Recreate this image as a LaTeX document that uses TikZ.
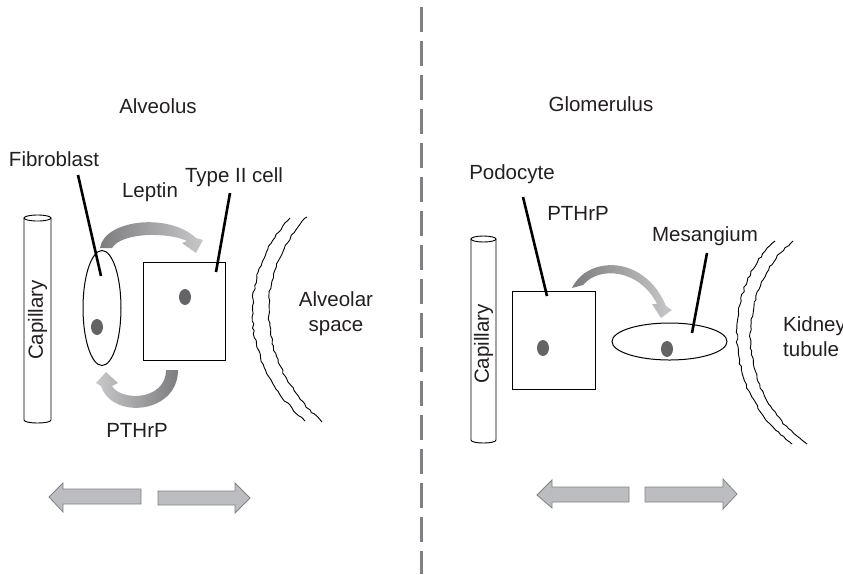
\documentclass[tikz,border=0pt]{standalone}
\usepackage{fontspec}
\setmainfont{Liberation Sans}
\usetikzlibrary{shapes.geometric,decorations.pathmorphing}
\definecolor{txt}{RGB}{35,31,32}
\definecolor{nuc}{RGB}{100,100,102}
\definecolor{divgray}{RGB}{128,128,132}
\definecolor{adark}{RGB}{125,125,127}
\definecolor{alight}{RGB}{200,200,202}
\definecolor{bfill}{RGB}{188,189,192}
\definecolor{bline}{RGB}{130,130,134}
\begin{document}
\begin{tikzpicture}[x=1pt,y=-1pt,
  lbl/.style={font=\fontsize{20.5}{25}\selectfont, text=txt, inner sep=0pt},
  cell/.style={draw=black, line width=1pt, fill=white, inner sep=0pt},
  nucleus/.style={fill=nuc, draw=none, ellipse, minimum width=12pt, minimum height=16pt, inner sep=0pt},
  leader/.style={line width=2.6pt, black},
  wall/.style={line width=0.9pt, line join=round, decorate, decoration={random steps, segment length=3.5pt, amplitude=0.9pt}},
  tube/.style={line width=0.9pt, black},
  bigarrow/.style={fill=bfill, draw=bline, line width=0.8pt, line join=miter},
  divider/.style={divgray, line width=3pt, dash pattern=on 25pt off 9pt}]
\pgfmathsetseed{7}
\useasboundingbox (0,0) rectangle (843,574);

% divider
\coordinate (dtop) at (421,7);
\coordinate (dbot) at (421,574);
\draw[divider] (dtop) -- (dbot);

% ---------- left panel ----------
\node[lbl] (alv) at (158,106) {Alveolus};
\node[lbl] (fibl) at (54,159) {Fibroblast};
\node[lbl] (lep) at (150,192) {Leptin};
\node[lbl] (t2l) at (234,177) {Type II cell};
\node[lbl] (pth1) at (137,430) {PTHrP};
\node[lbl, align=center] (alvsp) at (336,314) {Alveolar\\space};

% capillary
\draw[tube, fill=white] (24,218) -- (24,420) .. controls (24,424) and (51,424) .. (51,420) -- (51,218);
\draw[tube] (37.5,218) ellipse [x radius=13.5, y radius=3];
\node[lbl, rotate=90] (cap1) at (37.5,320) {Capillary};

% cells
\node[cell, ellipse, minimum width=38pt, minimum height=115pt] (fib) at (102,308) {};
\node[nucleus] (fibn) at (97,327) {};
\node[cell, rectangle, minimum width=82pt, minimum height=98pt] (t2) at (184,311) {};
\node[nucleus] (t2n) at (185,297) {};

% leaders
\coordinate (fibs) at (78,175);
\coordinate (fibe) at (101,276);
\draw[leader] (fibs) -- (fibe);
\coordinate (t2s) at (230,193);
\coordinate (t2e) at (216,272);
\draw[leader] (t2s) -- (t2e);

% curved arrows
\shade[left color=adark, right color=alight]
  (100,248) .. controls (104,220) and (168,212) .. (196,238)
  -- (203,240) -- (196,253) -- (182,243) -- (187,241)
  .. controls (168,232) and (122,232) .. (112,248) -- cycle;
\shade[left color=alight, right color=adark]
  (178,370) .. controls (178,414) and (112,420) .. (101,386)
  -- (96,383) -- (106,372) -- (118,383) -- (112,386)
  .. controls (122,402) and (166,400) .. (166,370) -- cycle;

% alveolar wall
\draw[wall] (290,218) .. controls (240,270) and (235,360) .. (305,421);
\draw[wall] (307,217) .. controls (255,270) and (252,360) .. (322,422);

% bottom arrows
\draw[bigarrow] (49,497) -- (63,483) -- (63,489) -- (141,489) -- (141,504) -- (63,504) -- (63,512) -- cycle;
\draw[bigarrow] (250,498) -- (235,483) -- (235,491) -- (158,491) -- (158,505) -- (235,505) -- (235,513) -- cycle;

% ---------- right panel ----------
\node[lbl] (glo) at (601,104) {Glomerulus};
\node[lbl] (podl) at (512,174) {Podocyte};
\node[lbl] (pth2) at (578,213) {PTHrP};
\node[lbl] (mesl) at (705,236) {Mesangium};
\node[lbl, align=left, anchor=west] (kid) at (783,337) {Kidney\\tubule};

% capillary
\draw[tube, fill=white] (471,239) -- (471,440) .. controls (471,444) and (496,444) .. (496,440) -- (496,239);
\draw[tube] (483.5,239) ellipse [x radius=12.5, y radius=3];
\node[lbl, rotate=90] (cap2) at (483.5,344) {Capillary};

% cells
\node[cell, rectangle, minimum width=83pt, minimum height=98pt] (pod) at (553.5,340) {};
\node[nucleus] (podn) at (543,348) {};
\node[cell, ellipse, minimum width=115pt, minimum height=37pt] (mes) at (669.5,341.5) {};
\node[nucleus] (mesn) at (667,349) {};

% leaders
\coordinate (pods) at (523,197);
\coordinate (pode) at (547,296);
\draw[leader] (pods) -- (pode);
\coordinate (mess) at (707,253);
\coordinate (mese) at (692,333);
\draw[leader] (mess) -- (mese);

% curved arrow
\shade[left color=adark, right color=alight]
  (572,288) .. controls (588,255) and (645,255) .. (666,306)
  -- (672,310) -- (661,318) -- (652,304) -- (657,304)
  .. controls (640,270) and (600,265) .. (583,285) -- cycle;

% tubule wall
\draw[wall] (775,241) .. controls (725,285) and (718,390) .. (792,444);
\draw[wall] (793,241) .. controls (738,285) and (730,390) .. (807,444);

% bottom arrows
\draw[bigarrow] (537,495) -- (552,480) -- (552,487) -- (629,487) -- (629,502) -- (552,502) -- (552,508) -- cycle;
\draw[bigarrow] (737,494) -- (723,479) -- (723,487) -- (645,487) -- (645,502) -- (723,502) -- (723,509) -- cycle;
\end{tikzpicture}
\end{document}
